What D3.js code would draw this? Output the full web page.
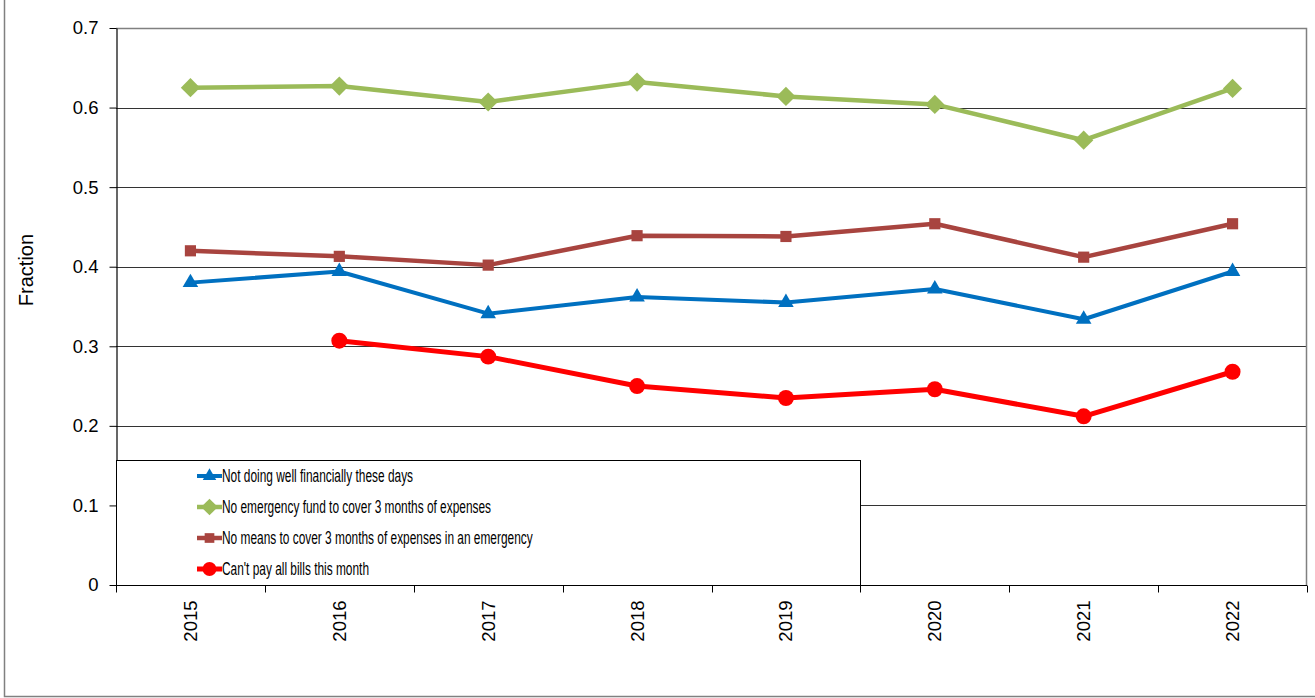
<!DOCTYPE html>
<html>
<head>
    <meta charset="utf-8">
    <script src="https://cdn.jsdelivr.net/npm/d3@7"></script>
    <title>Financial fragility</title>
    <style>
        body { margin: 0; background: #fff; }
        svg { display: block; font-family: "Liberation Sans", Arial, sans-serif; }
    </style>
</head>
<body>
<svg width="1315" height="698"></svg>

<script>
    const years = ["2015", "2016", "2017", "2018", "2019", "2020", "2021", "2022"];
    const notDoingWell = [0.380, 0.394, 0.341, 0.362, 0.355, 0.372, 0.334, 0.394];
    const noFund = [0.625, 0.627, 0.607, 0.632, 0.614, 0.604, 0.559, 0.624];
    const noMeans = [0.420, 0.413, 0.402, 0.439, 0.438, 0.454, 0.412, 0.454];
    const cantPay = [null, 0.307, 0.287, 0.250, 0.235, 0.246, 0.212, 0.268];
    const yTicks = [0, 0.1, 0.2, 0.3, 0.4, 0.5, 0.6, 0.7];

    const series = [
        { name: "Not doing well financially these days", values: notDoingWell, color: "#0070C0", width: 4, symbol: "triangle" },
        { name: "No emergency fund to cover 3 months of expenses", values: noFund, color: "#9BBB59", width: 4.5, symbol: "diamond" },
        { name: "No means to cover 3 months of expenses in an emergency", values: noMeans, color: "#A8443F", width: 4.5, symbol: "square" },
        { name: "Can't pay all bills this month", values: cantPay, color: "#FF0000", width: 5, symbol: "circle" }
    ];

    const mLeft = 116, mRight = 1307, mTop = 28, mBottom = 585;
    const svg = d3.select("svg");

    const x = d3.scaleBand().domain(years).range([mLeft, mRight]).padding(0);
    const y = d3.scaleLinear().domain([0, 0.7]).range([mBottom, mTop]);

    // outer frame (top edge is cut off in the original)
    svg.append("rect")
        .attr("x", 4.5).attr("y", -20)
        .attr("width", 1340).attr("height", 716.5)
        .attr("fill", "none").attr("stroke", "#808080").attr("stroke-width", 1.5);

    // gridlines
    svg.append("g").selectAll("line")
        .data(yTicks.filter(d => d > 0 && d < 0.7))
        .enter().append("line")
        .attr("x1", mLeft).attr("x2", mRight)
        .attr("y1", d => Math.round(y(d)) + 0.5).attr("y2", d => Math.round(y(d)) + 0.5)
        .attr("stroke", "#333").attr("stroke-width", 1.1);

    // plot border top / right
    svg.append("path")
        .attr("d", `M${mLeft},${mTop + 0.5}H${mRight - 0.5}V${mBottom}`)
        .attr("fill", "none").attr("stroke", "#808080").attr("stroke-width", 1.5);

    // y axis
    const yAxis = svg.append("g")
        .attr("transform", `translate(${mLeft + 0.5},0)`)
        .call(d3.axisLeft(y).tickValues(yTicks)
            .tickFormat(d => d === 0 ? "0" : d3.format(".1f")(d))
            .tickSize(7).tickPadding(11).tickSizeOuter(0));
    yAxis.select(".domain").attr("stroke", "#000").attr("stroke-width", 1.2);
    yAxis.selectAll(".tick line").attr("stroke", "#000");
    yAxis.selectAll("text").attr("font-size", 18.5).attr("font-family", "Liberation Sans, Arial, sans-serif").attr("fill", "#000");

    // x axis: ticks on band edges, labels in band centres
    const xAxis = svg.append("g").attr("transform", `translate(0,${mBottom + 0.5})`);
    xAxis.append("line")
        .attr("x1", mLeft).attr("x2", mRight)
        .attr("stroke", "#000").attr("stroke-width", 1.2);
    xAxis.selectAll(".edge")
        .data(years.map(d => x(d)).concat([x.range()[1]]))
        .enter().append("line")
        .attr("x1", d => Math.round(d) + 0.5).attr("x2", d => Math.round(d) + 0.5)
        .attr("y1", 0).attr("y2", 7)
        .attr("stroke", "#000");
    xAxis.selectAll(".lab")
        .data(years)
        .enter().append("text")
        .attr("transform", d => `translate(${x(d) + x.bandwidth() / 2},15) rotate(-90)`)
        .attr("text-anchor", "end")
        .attr("dy", "0.35em")
        .attr("font-size", 18.5)
        .text(d => d);

    svg.append("text")
        .attr("transform", "translate(33,270) rotate(-90)")
        .attr("text-anchor", "middle")
        .attr("font-size", 20)
        .text("Fraction");

    const symbolType = {
        triangle: d3.symbolTriangle,
        diamond: d3.symbolSquare,
        square: d3.symbolSquare,
        circle: d3.symbolCircle
    };
    const symbolSize = { triangle: 105, diamond: 185, square: 125, circle: 200 };

    function marker(sel, s) {
        sel.attr("d", d3.symbol().type(symbolType[s.symbol]).size(symbolSize[s.symbol])())
            .attr("fill", s.color);
    }

    const line = d3.line()
        .defined(d => d.v != null)
        .x(d => x(d.year) + x.bandwidth() / 2)
        .y(d => y(d.v));

    series.forEach(s => {
        const pts = years.map((yr, i) => ({ year: yr, v: s.values[i] }));
        const g = svg.append("g");
        g.append("path")
            .datum(pts)
            .attr("d", line)
            .attr("fill", "none")
            .attr("stroke", s.color)
            .attr("stroke-width", s.width)
            .attr("stroke-linejoin", "round");
        g.selectAll("path.pt")
            .data(pts.filter(d => d.v != null))
            .enter().append("path")
            .attr("class", "pt")
            .attr("transform", d => `translate(${x(d.year) + x.bandwidth() / 2},${y(d.v)})` + (s.symbol === "diamond" ? " rotate(45)" : ""))
            .call(marker, s);
    });

    // legend box
    const legend = svg.append("g").attr("class", "legend");
    legend.append("rect")
        .attr("x", mLeft + 0.5).attr("y", 460.5)
        .attr("width", 744).attr("height", mBottom - 460)
        .attr("fill", "#fff").attr("stroke", "#000").attr("stroke-width", 1);

    const rows = legend.selectAll(".row")
        .data(series)
        .enter().append("g")
        .attr("transform", (d, i) => `translate(197,${476 + i * 31})`);
    rows.append("line")
        .attr("x1", 0).attr("x2", 25)
        .attr("stroke", d => d.color)
        .attr("stroke-width", d => d.width);
    rows.append("path")
        .attr("transform", d => "translate(12.5,0)" + (d.symbol === "diamond" ? " rotate(45)" : ""))
        .each(function (d) {
            d3.select(this)
                .attr("d", d3.symbol().type(symbolType[d.symbol]).size(symbolSize[d.symbol] * 0.75)())
                .attr("fill", d.color);
        });
    // legend text in the original is a condensed face: squeeze it horizontally
    rows.append("text")
        .attr("transform", "translate(25,0) scale(0.68,1)")
        .attr("dy", "0.36em")
        .attr("font-size", 17.5)
        .attr("fill", "#000")
        .text(d => d.name);
</script>
</body>
</html>
